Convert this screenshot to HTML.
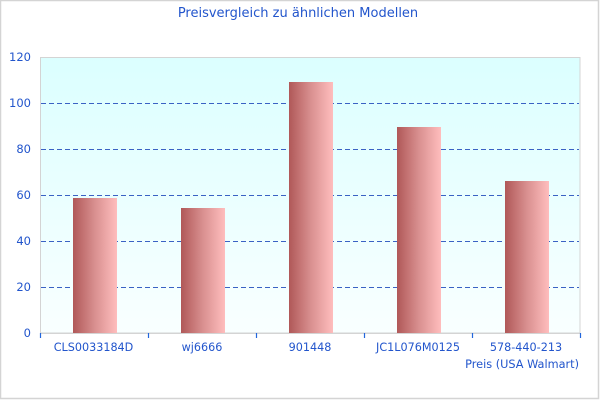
<!DOCTYPE html>
<html><head><meta charset="utf-8"><style>
html,body{margin:0;padding:0;background:#fff;}
svg{display:block;}
text{font-family:"DejaVu Sans","Liberation Sans",sans-serif;fill:#2255cc;}
</style></head><body>
<svg width="600" height="400" viewBox="0 0 600 400" xmlns="http://www.w3.org/2000/svg">
<defs>
<linearGradient id="bg" x1="0" y1="0" x2="0" y2="1">
<stop offset="0" stop-color="#dbffff"/>
<stop offset="1" stop-color="#f9ffff"/>
</linearGradient>
<linearGradient id="bar" x1="0" y1="0" x2="1" y2="0">
<stop offset="0" stop-color="#b05858"/>
<stop offset="0.5" stop-color="#d99090"/>
<stop offset="1" stop-color="#ffbdbd"/>
</linearGradient>
</defs>
<rect x="0.5" y="0.5" width="598" height="398" fill="#fff" stroke="#d4d4d4" stroke-width="1.5"/>
<text x="298" y="17" font-size="13" text-anchor="middle">Preisvergleich zu ähnlichen Modellen</text>
<rect x="40.5" y="57.5" width="539.5" height="275.5" fill="url(#bg)" stroke="#d4d4d4" stroke-width="1"/>
<g stroke="#3a62c4" stroke-width="1" stroke-dasharray="5,3">
<line x1="41" y1="103.5" x2="579" y2="103.5"/>
<line x1="41" y1="149.5" x2="579" y2="149.5"/>
<line x1="41" y1="195.5" x2="579" y2="195.5"/>
<line x1="41" y1="241.5" x2="579" y2="241.5"/>
<line x1="41" y1="287.5" x2="579" y2="287.5"/>
</g>
<g fill="url(#bar)">
<rect x="73" y="198" width="44" height="135"/>
<rect x="181" y="208" width="44" height="125"/>
<rect x="289" y="82" width="44" height="251"/>
<rect x="397" y="127" width="44" height="206"/>
<rect x="505" y="181" width="44" height="152"/>
</g>
<line x1="40" y1="333.5" x2="580" y2="333.5" stroke="#d4d4d4" stroke-width="1"/>
<g stroke="#2266dd" stroke-width="1.2">
<line x1="40.5" y1="333" x2="40.5" y2="338"/>
<line x1="148.5" y1="333" x2="148.5" y2="338"/>
<line x1="256.5" y1="333" x2="256.5" y2="338"/>
<line x1="364.5" y1="333" x2="364.5" y2="338"/>
<line x1="472.5" y1="333" x2="472.5" y2="338"/>
<line x1="580.5" y1="333" x2="580.5" y2="338"/>
</g>
<g font-size="11.5" text-anchor="end">
<text x="31" y="61">120</text>
<text x="31" y="107">100</text>
<text x="31" y="153">80</text>
<text x="31" y="199">60</text>
<text x="31" y="245">40</text>
<text x="31" y="291">20</text>
<text x="31" y="337">0</text>
</g>
<g font-size="11.2" text-anchor="middle">
<text x="93.5" y="351">CLS0033184D</text>
<text x="202" y="351">wj6666</text>
<text x="310" y="351">901448</text>
<text x="418" y="351">JC1L076M0125</text>
<text x="526" y="351">578-440-213</text>
</g>
<text x="579" y="368" font-size="11.3" text-anchor="end">Preis (USA Walmart)</text>
</svg>
</body></html>
